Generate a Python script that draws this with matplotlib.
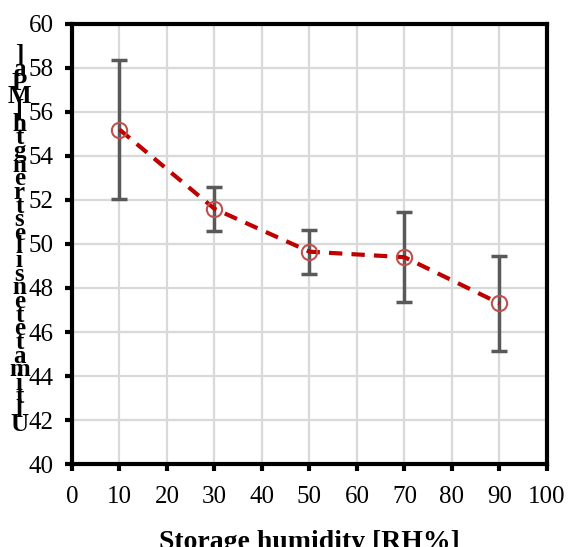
import matplotlib
matplotlib.use("Agg")
import matplotlib.pyplot as plt

# storage humidity vs. ultimate tensile strength
humidity = [10, 30, 50, 70, 90]
strength = [55.2, 51.6, 49.65, 49.4, 47.3]
strength_err = [3.15, 1.0, 1.0, 2.05, 2.15]

x_ticks = list(range(0, 101, 10))
y_ticks = list(range(40, 61, 2))
x_label = "Storage humidity [RH%]"
y_label = "Ultimate tensile strength [MPa]"

plt.rcParams['font.family'] = ['Liberation Serif', 'DejaVu Serif']

fig = plt.figure(figsize=(5.69, 5.47), dpi=100)
ax = fig.add_axes([0.1265, 0.1517, 0.8348, 0.8045])

ax.grid(True, color="#d9d9d9", linewidth=1.6, zorder=0)
ax.set_axisbelow(True)

ax.errorbar(humidity, strength, yerr=strength_err, fmt="none", ecolor="#595959",
            elinewidth=2.5, capsize=5.5, capthick=2.5, zorder=2)
ax.plot(humidity, strength, linestyle=(0, (3.2, 2.2)), color="#c00000", linewidth=3,
        zorder=3)
ax.plot(humidity, strength, "o", markerfacecolor="none", markeredgecolor="#c0504d",
        markersize=11, markeredgewidth=1.5, zorder=4)

ax.set_xlim(0, 100)
ax.set_ylim(40, 60)
ax.set_xticks(x_ticks)
ax.set_yticks(y_ticks)
ax.tick_params(axis="both", labelsize=18, length=5, width=3, direction="out", color="black")
ax.tick_params(axis="x", pad=11)
ax.tick_params(axis="y", pad=8)

for s in ax.spines.values():
    s.set_linewidth(3)
    s.set_color("black")

ax.set_xlabel(x_label, fontsize=20, fontweight="bold", labelpad=16)

# stacked upright characters (spaces dropped), as in the original export
stacked = "\n".join(reversed(y_label.replace(" ", "")))
fig.text(0.034, 0.561, stacked, fontsize=18, fontweight="bold",
         ha="center", va="center", linespacing=0.48, multialignment="center")

fig.savefig("out.png", dpi=100)
